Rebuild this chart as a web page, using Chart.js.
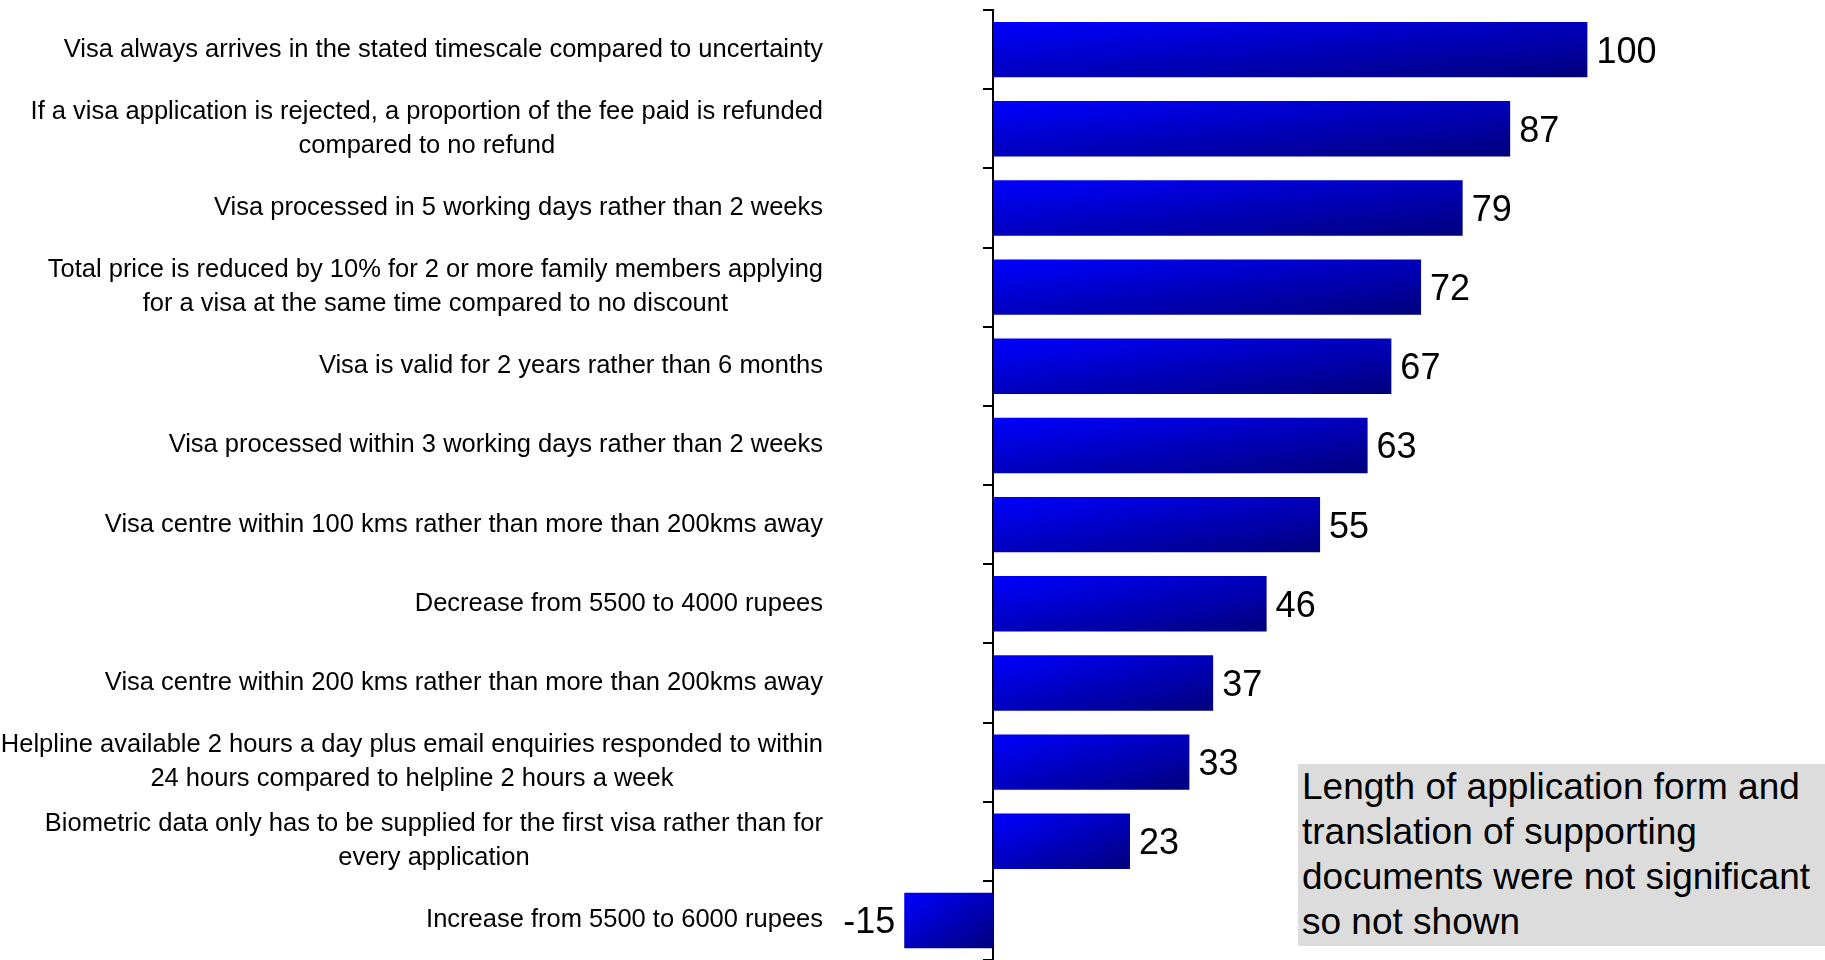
<!DOCTYPE html>
<html>
<head>
<meta charset="utf-8">
<script src="https://cdn.jsdelivr.net/npm/chart.js@4/dist/chart.umd.min.js"></script>
<style>
  body { margin: 0; background: #fff; }
  #wrap { position: relative; width: 1825px; height: 960px; }
  #note {
    position: absolute; left: 1298px; top: 764px; width: 523px; height: 182px;
    padding-left: 4px; background: #dcdcdc; color: #000;
    font-family: 'Liberation Sans', Arial, sans-serif; font-size: 37px; line-height: 45px;
  }
</style>
</head>
<body>
<div id="wrap">
  <canvas id="utility"></canvas>
  <div id="note">Length of application form and<br>translation of supporting<br>documents were not significant<br>so not shown</div>
</div>
<script>
// 属性ごとの効用スコア
var attributes = [
  "Visa always arrives in the stated timescale compared to uncertainty",
  ["If a visa application is rejected, a proportion of the fee paid is refunded", "compared to no refund"],
  "Visa processed in 5 working days rather than 2 weeks",
  ["Total price is reduced by 10% for 2 or more family members applying", "for a visa at the same time compared to no discount"],
  "Visa is valid for 2 years rather than 6 months",
  "Visa processed within 3 working days rather than 2 weeks",
  "Visa centre within 100 kms rather than more than 200kms away",
  "Decrease from 5500 to 4000 rupees",
  "Visa centre within 200 kms rather than more than 200kms away",
  ["Helpline available 2 hours a day plus email enquiries responded to within", "24 hours compared to helpline 2 hours a week"],
  ["Biometric data only has to be supplied for the first visa rather than for", "every application"],
  "Increase from 5500 to 6000 rupees"
];
var scores = [100, 87, 79, 72, 67, 63, 55, 46, 37, 33, 23, -15];

var BAR_PCT = 0.7;

// 複数行ラベルは右寄せのまま行同士を中央揃えにする
class BlockCategoryScale extends Chart.CategoryScale {
  _computeLabelItems(chartArea) {
    var items = super._computeLabelItems(chartArea);
    var ctx = this.ctx;
    items.forEach(function(item) {
      if (!Array.isArray(item.label) || item.options.textAlign !== 'right') return;
      ctx.save();
      ctx.font = item.font.string;
      var w = Math.max.apply(null, item.label.map(function(s) { return ctx.measureText(s).width; }));
      ctx.restore();
      item.options.textAlign = 'center';
      item.options.translation[0] -= w / 2;
    });
    return items;
  }
}
BlockCategoryScale.id = 'blockCategory';
Chart.register(BlockCategoryScale);

// 左上が青、右下が紺になる斜めグラデーション
function barGradient(c) {
  var chart = c.chart;
  if (c.type !== 'data' || !chart.scales.x || !chart.scales.y) return '#0000ff';
  var xs = chart.scales.x, ys = chart.scales.y;
  var v = c.raw;
  var x0 = xs.getPixelForValue(Math.min(0, v));
  var x1 = xs.getPixelForValue(Math.max(0, v));
  var step = Math.abs(ys.getPixelForValue(1) - ys.getPixelForValue(0));
  var H = step * BAR_PCT;
  var y0 = ys.getPixelForValue(c.dataIndex) - H / 2;
  var W = Math.max(1, x1 - x0);
  var d = W * W + H * H;
  var ex = x0 + 2 * W * H * H / d, ey = y0 + 2 * W * W * H / d;
  if (![x0, y0, ex, ey].every(isFinite) || H < 1) return '#0000ff';
  var g = chart.ctx.createLinearGradient(x0, y0, ex, ey);
  g.addColorStop(0, '#0000ff');
  g.addColorStop(1, '#00007c');
  return g;
}

// バー端の数値ラベル
var valueLabels = {
  id: 'valueLabels',
  afterDatasetsDraw: function(chart) {
    var ctx = chart.ctx;
    var meta = chart.getDatasetMeta(0);
    ctx.save();
    ctx.font = "36px 'Liberation Sans', Arial, sans-serif";
    ctx.fillStyle = '#000';
    ctx.textBaseline = 'middle';
    meta.data.forEach(function(bar, i) {
      var v = scores[i];
      ctx.textAlign = v < 0 ? 'right' : 'left';
      ctx.fillText(String(v), v < 0 ? bar.x - 9 : bar.x + 9, bar.y + 3);
    });
    ctx.restore();
  }
};

var ctx = document.getElementById("utility");
var myBarChart = new Chart(ctx, {
  type: 'bar',
  data: {
    labels: attributes,
    datasets: [{
      data: scores,
      backgroundColor: barGradient,
      barPercentage: BAR_PCT,
      categoryPercentage: 1
    }]
  },
  options: {
    indexAxis: 'y',
    responsive: true,
    maintainAspectRatio: false,
    animation: false,
    layout: { padding: { top: 10, bottom: 0, left: 0, right: 0 } },
    plugins: {
      legend: { display: false },
      tooltip: { enabled: false }
    },
    scales: {
      x: {
        display: false,
        min: -27.5,
        max: 140
      },
      y: {
        type: 'blockCategory',
        position: 'left',
        grid: { display: false, drawTicks: false },
        border: { display: false },
        ticks: {
          color: '#000',
          padding: 7,
          font: { family: "'Liberation Sans', Arial, sans-serif", size: 25.5, lineHeight: 1.33 }
        },
        afterFit: function(scale) {
          scale.width = 830;
          scale.paddingTop = 0;
          scale.paddingBottom = 0;
        }
      },
      // 0の位置の軸線と目盛り
      y2: {
        type: 'category',
        position: { x: 0 },
        offset: true,
        grid: { offset: true, drawOnChartArea: false, drawTicks: true, tickLength: 9, color: '#000', lineWidth: 2 },
        border: { display: true, color: '#000', width: 2 },
        ticks: { display: false }
      }
    }
  },
  plugins: [valueLabels]
});
</script>
</body>
</html>
